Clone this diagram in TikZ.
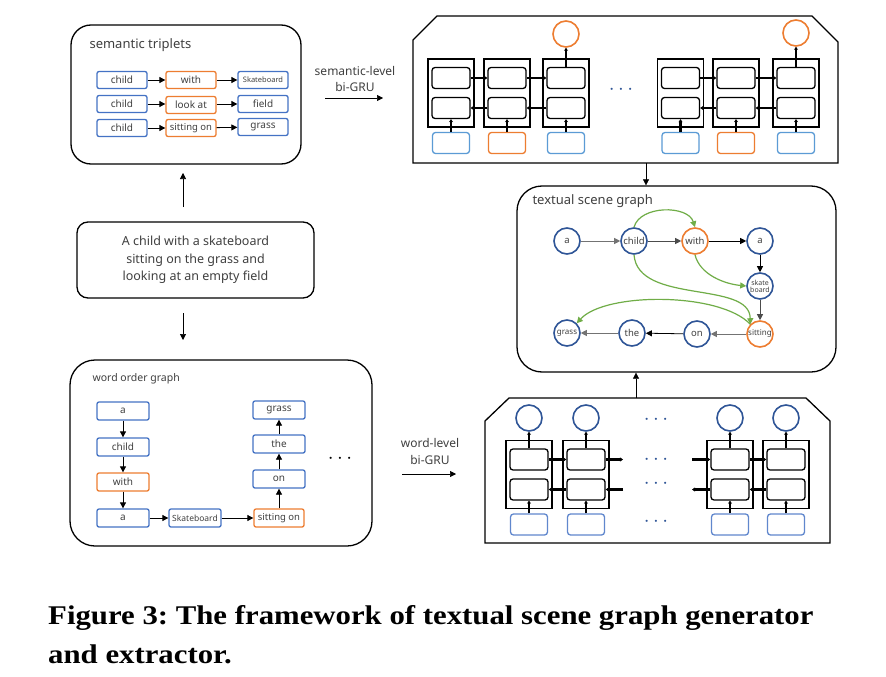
\documentclass[tikz,border=0pt]{standalone}
\usepackage{fontspec}
\setmainfont{Noto Sans}
\newfontfamily\capfont{Liberation Serif}
\usetikzlibrary{arrows.meta}
\definecolor{bblue}{HTML}{4472C4}
\definecolor{lblue}{HTML}{5B9BD5}
\definecolor{dblue}{HTML}{2F5597}
\definecolor{orng}{HTML}{ED7D31}
\definecolor{grn}{HTML}{70AD47}
\definecolor{txt}{HTML}{404040}
\begin{document}
\frenchspacing
\begin{tikzpicture}[x=1pt,y=-1pt,
 bigbox/.style={draw=black, line width=1.3pt, inner sep=0pt},
 wbox/.style={draw=bblue, line width=1.3pt, rounded corners=2pt, minimum width=50pt, minimum height=17pt, inner sep=0pt, font=\fontsize{10}{12}\selectfont, text=txt},
 owbox/.style={wbox, draw=orng},
 arr/.style={-{Triangle[length=6pt,width=6pt]}, line width=0.8pt},
 tarr/.style={-{Triangle[length=6pt,width=6pt]}, line width=0.6pt},
 outerc/.style={draw=black, line width=1.1pt, minimum width=46pt, minimum height=68pt, inner sep=0pt},
 innerc/.style={draw=black, line width=1.3pt, rounded corners=3pt, minimum width=38pt, minimum height=21pt, inner sep=0pt},
 inb/.style={draw=lblue, line width=1.3pt, rounded corners=3pt, minimum width=37pt, minimum height=21pt, inner sep=0pt},
 inbo/.style={inb, draw=orng},
 inbb/.style={inb, draw=bblue!85},
 outc/.style={circle, draw=dblue, line width=1.6pt, minimum size=26pt, inner sep=0pt},
 outco/.style={outc, draw=orng},
 thk/.style={-{Stealth[length=3pt,width=4pt]}, line width=2.2pt},
 sg/.style={circle, draw=dblue, line width=1.6pt, minimum size=26pt, inner sep=0pt, font=\fontsize{9.5}{10}\selectfont, text=txt},
 sgo/.style={sg, draw=orng},
 garr/.style={-{Triangle[length=6pt,width=6pt]}, draw=grn, line width=1.2pt},
 dots/.style={font=\fontsize{22}{22}\selectfont, text=dblue, inner sep=0pt},
 lbl/.style={font=\fontsize{12}{17}\selectfont, text=txt, align=center},
 gru/.pic={
  \node[outerc] (-box) at (0,0) {};
  \node[innerc] (-up) at (0,-15) {};
  \node[innerc] (-lo) at (0,15) {};
 }]
\fill[white] (0,0) rectangle (886,677);
\useasboundingbox (0,0) rectangle (886,677);

% ---------- semantic triplets ----------
\node[bigbox, rounded corners=20pt, minimum width=230pt, minimum height=139pt] (trip) at (186,94.5) {};
\node[anchor=west, font=\fontsize{13}{15}\selectfont, text=txt] (stt) at (86,45) {semantic triplets};
\node[wbox] (c1) at (122,80) {child};
\node[owbox] (w1) at (191,80) {with};
\node[wbox, font=\fontsize{7.5}{9}\selectfont] (s1) at (263,80) {Skateboard};
\node[wbox] (c2) at (122,104) {child};
\node[owbox] (w2) at (191,105) {look at};
\node[wbox] (s2) at (263,104) {field};
\node[wbox] (c3) at (122,128) {child};
\node[owbox, font=\fontsize{9.5}{11}\selectfont] (w3) at (191,128) {sitting on};
\node[wbox] (s3) at (263,127) {grass};
\draw[arr] (c1) -- (w1);
\draw[arr] (w1) -- (s1);
\draw[arr] (c2.east) -- (w2.west |- c2.east);
\draw[arr] (w2.east |- s2.west) -- (s2.west);
\draw[arr] (c3) -- (w3);
\draw[arr] (w3) -- (s3);

% ---------- semantic-level label ----------
\node[lbl] (sll) at (355,79) {semantic-level\\bi-GRU};
\coordinate (sla) at (325,98);
\coordinate (slb) at (383,98);
\draw[tarr] (sla) -- (slb);

% ---------- top panel ----------
\draw[line width=1.3pt] (413,163) -- (413,40) -- (437,16) -- (812,16) -- (838,42) -- (838,163) -- cycle;
\coordinate (tpb) at (646,163);
\pic (t1) at (451,93) {gru};
\pic (t2) at (507,93) {gru};
\pic (t3) at (566,93) {gru};
\pic (t4) at (680.5,93) {gru};
\pic (t5) at (736,93) {gru};
\pic (t6) at (796,93) {gru};
\node[inb]  (t1i) at (451,143) {};
\node[inbo] (t2i) at (507,143) {};
\node[inb]  (t3i) at (566,143) {};
\node[inb]  (t4i) at (680.5,143) {};
\node[inbo] (t5i) at (736,143) {};
\node[inb]  (t6i) at (796,143) {};
\node[outco] (t3o) at (566,34) {};
\node[outco] (t6o) at (796,33) {};
\foreach \g in {t1,t2,t3,t4,t5,t6}{
  \draw[thk] (\g i.north) -- (\g-lo.south);
}
\draw[thk] (t3-up.north) -- (t3o.south);
\draw[thk] (t6-up.north) -- (t6o.south);
\draw[thk] (t1-up.east) -- (t2-up.west);
\draw[thk] (t2-up.east) -- (t3-up.west);
\draw[thk] (t2-lo.west) -- (t1-lo.east);
\draw[thk] (t3-lo.west) -- (t2-lo.east);
\draw[thk] (t4-up.east) -- (t5-up.west);
\draw[thk] (t5-up.east) -- (t6-up.west);
\draw[thk] (t5-lo.west) -- (t4-lo.east);
\draw[thk] (t6-lo.west) -- (t5-lo.east);
\node[dots] (tdots) at (621,90) {$\cdots$};

% ---------- textual scene graph ----------
\node[bigbox, rounded corners=25pt, minimum width=319pt, minimum height=186pt] (sgb) at (676.5,279) {};
\node[anchor=west, font=\fontsize{13}{15}\selectfont, text=txt] (sgt) at (529,201) {textual scene graph};
\draw[tarr] (tpb) -- (tpb |- sgb.north);
\node[sg]  (na)  at (567,241) {a};
\node[sg]  (nch) at (634,241) {child};
\node[sgo] (nw)  at (695,241) {with};
\node[sg]  (na2) at (760,241) {a};
\node[sg, font=\fontsize{7}{7}\selectfont, align=center] (nsk) at (760,286) {skate\\board};
\node[sgo, font=\fontsize{8}{9}\selectfont] (nsi) at (760,334) {sitting};
\node[sg]  (non) at (697,334) {on};
\node[sg]  (nth) at (632,333) {the};
\node[sg, font=\fontsize{8}{9}\selectfont]  (ngr) at (567,333) {grass};
\draw[arr, draw=black!55] (na) -- (nch);
\draw[arr, draw=black!70] (nch) -- (nw);
\draw[arr] (nw) -- (na2);
\draw[arr] (na2) -- (nsk);
\draw[arr, draw=black!70] (nsk) -- (nsi);
\draw[arr, draw=black!55] (nsi) -- (non);
\draw[arr] (non) -- (nth);
\draw[arr, draw=black!55] (nth) -- (ngr);
\draw[garr] (nch.north) .. controls (640,205) and (688,205) .. (nw.north);
\draw[garr] (nw.south) .. controls (700,275) and (725,284) .. (nsk.west);
\draw[garr] (nch.south) .. controls (638,305) and (750,280) .. (nsi.north west);
\draw[garr] (nsi.north west) .. controls (720,292) and (605,292) .. (ngr.north east);

% ---------- sentence ----------
\node[bigbox, rounded corners=11pt, minimum width=237pt, minimum height=76pt, align=center, font=\fontsize{12.5}{17.5}\selectfont, text=txt] (sent) at (195.5,260) {A child with a skateboard\\sitting on the grass and\\looking at an empty field};
\coordinate (ua) at (183,207);
\coordinate (ub) at (183,173);
\draw[tarr] (ua) -- (ub);
\coordinate (da) at (183,313);
\coordinate (db) at (183,340);
\draw[tarr] (da) -- (db);

% ---------- word order graph ----------
\node[bigbox, rounded corners=25pt, minimum width=302pt, minimum height=186pt] (wog) at (221,453) {};
\node[anchor=west, font=\fontsize{10.5}{12}\selectfont, text=txt] (wot) at (89,379) {word order graph};
\node[wbox, minimum width=52pt, minimum height=18pt] (wa) at (123,411) {a};
\node[wbox, minimum width=52pt, minimum height=18pt] (wch) at (123,447) {child};
\node[owbox, minimum width=52pt, minimum height=18pt] (ww) at (123,482) {with};
\node[wbox, minimum width=52pt, minimum height=18pt] (wa2) at (123,518) {a};
\node[wbox, minimum width=52pt, minimum height=18pt, font=\fontsize{8.5}{10}\selectfont] (wsk) at (195,518) {Skateboard};
\node[owbox, minimum width=50pt, minimum height=18pt, font=\fontsize{9.5}{11}\selectfont] (wsi) at (279,518) {sitting on};
\node[wbox, minimum width=52pt, minimum height=18pt] (won) at (279,479) {on};
\node[wbox, minimum width=52pt, minimum height=18pt] (wth) at (279,444) {the};
\node[wbox, minimum width=52pt, minimum height=18pt] (wgr) at (279,410) {grass};
\draw[arr] (wa) -- (wch);
\draw[arr] (wch) -- (ww);
\draw[arr] (ww) -- (wa2);
\draw[arr] (wa2) -- (wsk);
\draw[arr] (wsk) -- (wsi);
\draw[arr] (wsi) -- (won);
\draw[arr] (won) -- (wth);
\draw[arr] (wth) -- (wgr);
\node[dots, text=black] (wdots) at (340,459) {$\cdots$};

% ---------- word-level label ----------
\node[lbl] (wll) at (430,451) {word-level\\bi-GRU};
\coordinate (wla) at (402,474);
\coordinate (wlb) at (456,474);
\draw[tarr] (wla) -- (wlb);

% ---------- bottom panel ----------
\draw[line width=1.3pt] (485,543) -- (485,421) -- (509,398) -- (806,398) -- (830,421) -- (830,543) -- cycle;
\coordinate (bpt) at (636,398);
\draw[tarr] (bpt) -- (bpt |- sgb.south);
\pic (b1) at (529,474.5) {gru};
\pic (b2) at (586,474.5) {gru};
\pic (b3) at (730,474.5) {gru};
\pic (b4) at (786,474.5) {gru};
\foreach \g/\x in {b1/529,b2/586,b3/730,b4/786}{
  \node[inbb] (\g i) at (\x,524.5) {};
  \node[outc] (\g o) at (\x,418) {};
  \draw[thk] (\g i.north) -- (\g-lo.south);
  \draw[thk] (\g-up.north) -- (\g o.south);
}
\draw[thk] (b1-up.east) -- (b2-up.west);
\draw[thk] (b2-lo.west) -- (b1-lo.east);
\draw[thk] (b3-up.east) -- (b4-up.west);
\draw[thk] (b4-lo.west) -- (b3-lo.east);
\coordinate (b2ro) at (623,459.5);
\coordinate (b2ri) at (623,489.5);
\coordinate (b3li) at (692,459.5);
\coordinate (b3lo) at (692,489.5);
\draw[thk] (b2-up.east) -- (b2ro);
\draw[thk] (b2ri) -- (b2-lo.east);
\draw[thk] (b3li) -- (b3-up.west);
\draw[thk] (b3-lo.west) -- (b3lo);
\node[dots] (bd1) at (656,420) {$\cdots$};
\node[dots] (bd2) at (656,460) {$\cdots$};
\node[dots] (bd3) at (656,484) {$\cdots$};
\node[dots] (bd4) at (656,522) {$\cdots$};

% ---------- caption ----------
\node[anchor=base west, inner sep=0pt, font=\capfont\bfseries\fontsize{27}{30}\selectfont] (cap1) at (48,624) {\scalebox{1.14}[1]{Figure 3: The framework of textual scene graph generator}};
\node[anchor=base west, inner sep=0pt, font=\capfont\bfseries\fontsize{27}{30}\selectfont] (cap2) at (48,663) {\scalebox{1.14}[1]{and extractor.}};
\end{tikzpicture}
\end{document}
